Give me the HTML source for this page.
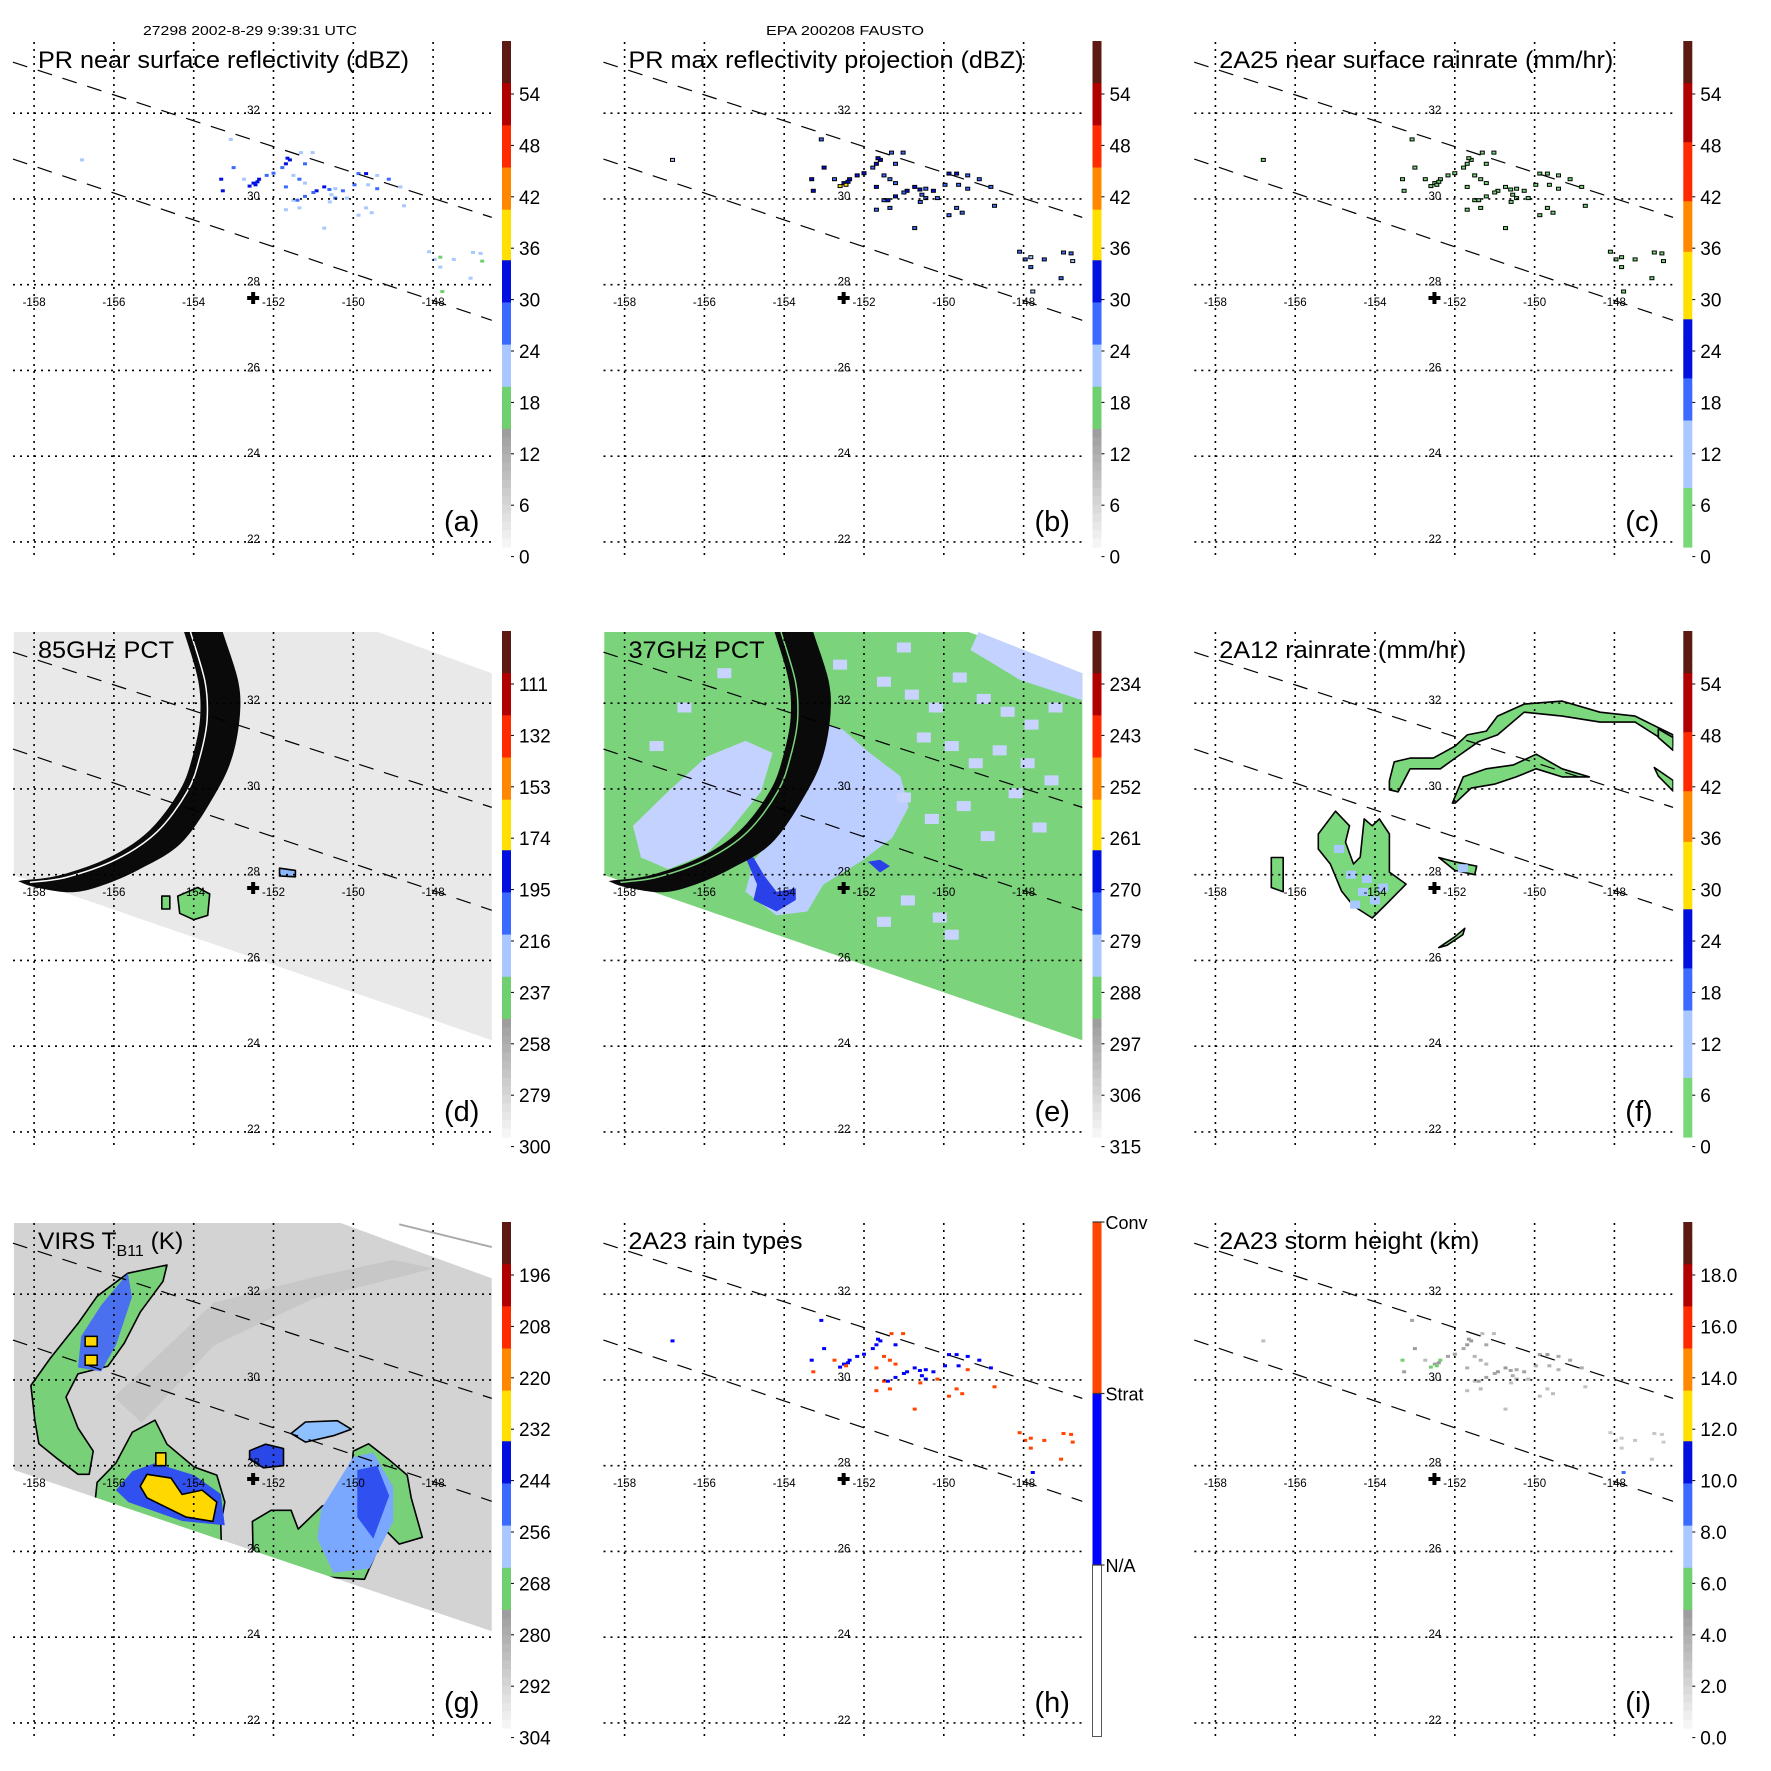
<!DOCTYPE html>
<html><head><meta charset="utf-8"><title>TRMM FAUSTO 2002-8-29</title>
<style>
html,body{margin:0;padding:0;background:#fff;}
svg{display:block;font-family:"Liberation Sans",Arial,sans-serif;}
</style></head>
<body>
<svg id="fig" xmlns="http://www.w3.org/2000/svg" width="1771" height="1771" viewBox="0 0 1771 1771">
<rect x="0" y="0" width="1771" height="1771" fill="#fff"/>
<text x="250" y="35" font-size="13" text-anchor="middle" textLength="214" lengthAdjust="spacingAndGlyphs">27298 2002-8-29 9:39:31 UTC</text>
<text x="845" y="35" font-size="13" text-anchor="middle" textLength="158" lengthAdjust="spacingAndGlyphs">EPA 200208 FAUSTO</text>
</svg>
<script>
// ---------- data ----------
const lonTicks = [-158,-156,-154,-152,-150,-148];
const latTicks = [32,30,28,26,24,22];
const stormCenter = [-152.51, 27.69];
const prEdge1 = [[-158.53,33.19],[-146.53,29.57]];
const prEdge2 = [[-158.53,30.93],[-146.53,27.17]];
// PR stratiform pixels
const stratLon = [-153.07,-153.0,-153.31,-152.5,-152.36,-152.17,-151.69,-151.59,-151.78,-151.21,-151.4,-151.21,-150.92,-150.73,-150.45,-150.45,-150.26,-149.97,-149.87,-149.68,-149.4,-149.11,-148.82,-149.63,-156.8,-147.77,-152.6,-152.4,-152.0,-151.65,-151.0,-150.6,-150.55];
const stratLat = [31.39,30.73,30.46,30.37,30.46,30.55,30.82,30.91,30.73,30.82,29.97,30.06,30.19,30.28,30.24,30.02,30.19,30.33,30.59,30.59,30.55,30.46,30.28,30.33,30.91,27.84,30.3,30.4,30.6,30.95,30.15,30.22,30.1];
// PR convective pixels
const convLon = [-152.45,-151.31,-151.02,-151.5,-151.35,-151.21,-151.69,-152.74,-153.27,-151.69,-151.5,-151.35,-150.73,-150.59,-150.16,-149.87,-149.68,-149.54,-149.4,-148.73,-148.1,-147.96,-147.82,-147.48,-147.0,-146.81,-146.77,-147.06,-147.82];
const convLat = [30.33,31.08,31.08,30.55,30.46,30.37,30.28,30.46,30.19,29.75,29.97,29.79,29.32,29.93,30.02,29.62,29.79,29.68,30.24,29.84,28.77,28.59,28.64,28.59,28.75,28.73,28.55,28.15,28.41];
// values per pixel
const stratNearSfc = [24,27,31,30,32,29,31,30,26,25,28,27,30,31,24,26,29,25,27,30,23,26,24,22,20,18,33,31,29,30,26,27,24];
const convNearSfc  = [33,22,21,24,25,23,26,22,31,23,20,24,22,21,23,22,20,23,25,21,22,20,19,22,21,20,19,22,21];
const stratMaxZ = [28,30,33,33,34,31,33,32,29,28,31,30,32,33,28,29,31,28,30,32,27,29,28,26,24,22,35,33,31,32,29,30,28];
const convMaxZ  = [36,26,25,28,29,27,30,27,34,27,25,28,26,25,27,26,25,27,29,26,26,25,24,26,25,25,24,26,25];
const stratRain = [2,3,4,4,5,3,4,4,2,2,3,3,4,4,2,2,3,2,3,4,2,2,2,1,1,1,5,4,3,4,2,3,2];
const convRain  = [6,1,1,2,2,1,2,1,5,1,1,2,1,1,1,1,1,1,2,1,1,1,1,1,1,1,1,1,1];
const stratHt = [4.2,4.6,4.8,4.5,4.9,4.3,4.7,4.6,4.1,4.0,4.4,4.3,4.6,4.7,3.9,4.1,4.4,4.0,4.3,4.6,3.8,4.1,3.9,3.6,3.0,9.0,4.9,4.7,4.4,4.6,4.1,4.3,3.9];
const convHt  = [5.0,3.0,3.0,3.4,3.5,3.2,3.6,3.1,4.5,3.0,2.8,3.2,2.9,2.8,3.0,2.9,2.7,3.0,3.4,2.8,2.5,2.4,2.3,2.5,2.4,2.3,2.2,2.5,2.4];
// colourbar tick labels
const cbMainTicks = ['54','48','42','36','30','24','18','12','6','0'];
const cb85Ticks = ['111','132','153','174','195','216','237','258','279','300'];
const cb37Ticks = ['234','243','252','261','270','279','288','297','306','315'];
const cbVirsTicks = ['196','208','220','232','244','256','268','280','292','304'];
const cbHtTicks = ['18.0','16.0','14.0','12.0','10.0','8.0','6.0','4.0','2.0','0.0'];
const rainTypeLabels = ['Conv','Strat','N/A'];
// swaths
const tmiSwath = [[-158.51,33.66],[-149.38,33.66],[-146.53,32.7],[-146.53,24.14],[-158.51,27.99]];
const virsSwath = [[-158.51,33.66],[-150.31,33.66],[-146.53,32.37],[-146.53,24.14],[-158.51,27.9]];
const scanArcOuter = [[-153.27,33.8],[-153.27,33.66],[-152.89,32.54],[-152.84,31.75],[-153.02,30.79],[-153.42,29.95],[-154.29,28.76],[-155.35,28.13],[-156.35,27.73],[-157.1,27.59],[-157.98,27.71],[-158.4,27.85]];
const scanArcInner = [[-158.28,27.87],[-157.35,27.99],[-156.1,28.41],[-155.1,29.04],[-154.34,29.98],[-154.02,30.79],[-153.84,31.65],[-153.89,32.54],[-154.24,33.66],[-154.28,33.8]];
// 85 GHz blobs
const pct85Blob1 = [[-154.4,27.5],[-153.9,27.7],[-153.6,27.55],[-153.65,27.05],[-154.0,26.95],[-154.35,27.1]];
const pct85Blob2 = [[-154.8,27.5],[-154.6,27.5],[-154.6,27.2],[-154.8,27.2]];
const pct85Blob3 = [[-151.85,28.15],[-151.45,28.1],[-151.45,27.95],[-151.85,27.97]];
// 37 GHz regions
const pct37Light1 = [[-157.79,29.14],[-156.91,29.94],[-155.95,30.75],[-154.97,31.12],[-154.29,30.84],[-154.58,29.94],[-155.36,29.04],[-155.95,28.49],[-156.91,28.13],[-157.59,28.4]];
const pct37Light2 = [[-153.42,31.65],[-152.54,31.39],[-151.86,30.84],[-151.09,30.3],[-150.88,29.58],[-151.29,28.86],[-152.06,28.32],[-153.02,27.77],[-153.42,27.14],[-154.19,27.05],[-154.97,27.6],[-154.77,28.32],[-153.99,29.21],[-153.62,30.3]];
const pct37Light3 = [[-149.13,33.66],[-146.53,32.7],[-146.53,32.07],[-148.08,32.54],[-149.33,33.24]];
const pct37Core = [[-154.97,28.4],[-154.68,27.77],[-154.77,27.41],[-154.19,27.14],[-153.71,27.41],[-153.71,27.68],[-154.19,27.6],[-154.48,27.95],[-154.77,28.4]];
const pct37Core2 = [[-151.9,28.3],[-151.6,28.35],[-151.35,28.2],[-151.6,28.05]];
const pct37SpeckLon = [-151.5,-150.8,-150.2,-149.6,-149.0,-148.4,-147.8,-147.2,-150.5,-149.8,-149.2,-148.6,-147.9,-147.3,-148.2,-149.5,-150.3,-151.0,-148.9,-147.6,-150.9,-150.1,-149.8,-151.5,-152.6,-151.0,-155.5,-156.5,-157.2,-153.5];
const pct37SpeckLat = [32.5,32.2,31.9,32.6,32.1,31.8,31.5,31.9,31.2,31.0,30.6,30.9,30.6,30.2,29.9,29.6,29.3,29.8,28.9,29.1,27.4,27.0,26.6,26.9,32.9,33.3,32.7,31.9,31.0,32.8];
// 2A12 rain areas
const tmiRainV = [[-155.42,28.95],[-154.99,29.48],[-154.64,29.14],[-154.74,28.76],[-154.54,28.25],[-154.37,28.41],[-154.27,29.3],[-154.07,29.14],[-153.89,29.3],[-153.64,28.95],[-153.64,28.06],[-153.22,27.78],[-153.69,27.34],[-154.07,26.99],[-154.54,27.27],[-154.84,27.62],[-155.12,28.25],[-155.42,28.6]];
const tmiRainBand1 = [[-153.64,30.19],[-153.52,30.63],[-153.12,30.72],[-152.54,30.72],[-151.99,31.0],[-151.69,31.26],[-151.21,31.35],[-150.93,31.7],[-150.26,31.98],[-149.31,32.05],[-148.36,31.79],[-147.48,31.7],[-146.53,31.26],[-146.53,31.0],[-147.48,31.56],[-148.36,31.56],[-149.31,31.7],[-150.26,31.79],[-150.93,31.26],[-151.41,31.1],[-151.99,30.72],[-152.36,30.47],[-152.74,30.47],[-153.12,30.47],[-153.42,29.93],[-153.64,29.98]];
const tmiRainBand2 = [[-152.06,29.67],[-151.79,30.28],[-151.21,30.47],[-150.53,30.56],[-149.96,30.81],[-149.31,30.47],[-148.63,30.28],[-149.31,30.28],[-149.96,30.47],[-150.46,30.28],[-151.01,30.11],[-151.59,30.02],[-151.99,29.67]];
const tmiRainSmall1 = [[-152.4,28.4],[-152.0,28.3],[-151.45,28.2],[-151.5,28.0],[-152.0,28.1]];
const tmiRainSmall2 = [[-152.4,26.3],[-152.0,26.55],[-151.75,26.75],[-151.8,26.6],[-152.2,26.35]];
const tmiRainSmall3 = [[-156.6,28.4],[-156.3,28.4],[-156.3,27.6],[-156.6,27.7]];
const tmiRainSmall4 = [[-146.9,31.4],[-146.53,31.2],[-146.53,30.9],[-146.9,31.2]];
const tmiRainSmall5 = [[-147.0,30.5],[-146.53,30.2],[-146.53,29.95],[-146.9,30.3]];
const tmiHeavyLon = [-154.9,-154.6,-154.3,-154.0,-153.8,-154.5,-154.2,-151.8];
const tmiHeavyLat = [28.6,28.0,27.6,27.4,27.7,27.3,27.9,28.15];
// VIRS cloud features
const virsBandLeft = [[-154.67,32.68],[-155.65,32.49],[-156.42,31.95],[-156.9,31.32],[-157.6,30.5],[-158.08,29.87],[-157.98,29.05],[-157.88,28.51],[-157.4,28.15],[-156.9,27.8],[-156.62,27.8],[-156.52,28.34],[-156.9,28.88],[-157.2,29.6],[-156.9,30.14],[-156.15,30.32],[-155.74,30.86],[-155.34,31.58],[-154.77,32.3]];
const virsBlueLeft = [[-155.65,32.49],[-156.32,31.74],[-156.82,31.02],[-156.9,30.29],[-156.32,30.2],[-155.94,30.83],[-155.55,31.93]];
const virsYellowLeftLon = [-156.57,-156.57];
const virsYellowLeftLat = [30.9,30.46];
const virsSW = [[-156.42,27.61],[-155.95,28.06],[-155.54,28.78],[-154.97,29.06],[-154.67,28.5],[-153.99,27.97],[-153.42,27.78],[-153.22,27.15],[-153.32,26.61],[-153.3,26.0],[-156.5,26.9]];
const virsSWBlue = [[-155.95,27.43],[-155.54,27.87],[-154.97,28.06],[-153.99,27.78],[-153.32,27.34],[-153.22,26.61],[-154.29,26.71],[-155.64,27.15]];
const virsSWYellow = [[-155.34,27.52],[-155.17,27.8],[-154.57,27.71],[-154.29,27.33],[-153.79,27.43],[-153.42,27.15],[-153.52,26.7],[-154.19,26.8],[-155.17,27.25]];
const virsSmallYellow = [[-154.95,28.3],[-154.7,28.3],[-154.7,28.0],[-154.95,28.0]];
const virsEyeBlob = [[-152.6,28.35],[-152.2,28.5],[-151.75,28.4],[-151.75,28.0],[-152.25,27.95],[-152.6,28.15]];
const virsCyanBlob = [[-151.56,28.75],[-151.2,29.02],[-150.4,29.05],[-150.05,28.85],[-150.5,28.7],[-151.2,28.55]];
const virsEast = [[-152.53,26.7],[-152.06,26.96],[-151.56,26.96],[-151.38,26.52],[-150.78,27.06],[-150.1,27.25],[-150.0,28.34],[-149.62,28.51],[-149.12,28.15],[-148.65,27.78],[-148.55,27.25],[-148.27,26.33],[-148.85,26.17],[-149.22,26.52],[-149.42,25.98],[-149.72,25.35],[-152.5,25.5]];
const virsEastBlue = [[-150.8,27.0],[-150.0,28.2],[-149.5,28.3],[-149.0,27.5],[-149.0,26.7],[-149.6,25.6],[-150.5,25.5],[-150.9,26.3]];
const virsEastDeep = [[-149.9,27.9],[-149.4,28.0],[-149.1,27.3],[-149.5,26.3],[-149.9,26.8]];
const virsDarkBand = [[-156,29.6],[-153.5,31.8],[-151,32.4],[-149,32.8],[-148,32.6],[-151,31.9],[-153.5,30.8],[-155.3,29.0]];
const virsEdgeLine = [[-148.85,33.63],[-146.53,33.1]];

// ---------- helpers ----------
const NS = 'http://www.w3.org/2000/svg';
const svg = document.getElementById('fig');
function mk(tag, name, parent, attrs){
  const el = document.createElementNS(NS, tag);
  
  
  for (const k in attrs) el.setAttribute(k, attrs[k]);
  (parent || svg).appendChild(el);
  return el;
}
function mainColor(t){ // t: 0 top of bar, 1 bottom
  if (t < 0.083) return '#5c1a12';
  if (t < 0.17) return '#b00000';
  if (t < 0.256) return '#ff2a00';
  if (t < 0.341) return '#ff8800';
  if (t < 0.426) return '#ffe000';
  if (t < 0.509) return '#0010e0';
  if (t < 0.594) return '#3a6aff';
  if (t < 0.678) return '#a8c8ff';
  if (t < 0.762) return '#70d070';
  const g = Math.round(153 + (t - 0.762) / 0.238 * 95);
  return 'rgb(' + g + ',' + g + ',' + g + ')';
}
function rainColor(t){
  if (t < 0.085) return '#5c1a12';
  if (t < 0.204) return '#b00000';
  if (t < 0.32) return '#ff2a00';
  if (t < 0.423) return '#ff8800';
  if (t < 0.543) return '#ffe000';
  if (t < 0.66) return '#0010e0';
  if (t < 0.755) return '#3a6aff';
  if (t < 0.881) return '#a8c8ff';
  return '#78d878';
}

function panel(ox, oy, id){
  const g = mk('g', 'panel-' + id, svg, {});
  const X = lon => ox + 34.1 + (lon + 158) * 39.9;
  const Y = lat => oy + 541.9 - (lat - 22) * 42.87;
  const pts = arr => arr.map(p => X(p[0]).toFixed(1) + ',' + Y(p[1]).toFixed(1)).join(' ');
  const clipId = 'clip-' + id;
  const cp = mk('clipPath', 'plot-clip', g, {id: clipId});
  mk('rect', 'plot-clip-rect', cp, {x: ox + 13, y: oy + 42, width: 479, height: 513});
  const plot = mk('g', 'plot-area', g, {'clip-path': 'url(#' + clipId + ')'});
  return {g, plot, X, Y, pts, ox, oy};
}
function gridAndFrame(P){
  const gg = mk('g', 'lat-lon-grid', P.g, {});
  for (const lat of latTicks){
    mk('line', 'lat-gridline-' + lat, gg, {x1: P.ox + 13, x2: P.ox + 492, y1: P.Y(lat), y2: P.Y(lat), stroke: '#000', 'stroke-width': 1.6, 'stroke-dasharray': '2 5'});
    const t = mk('text', 'lat-label-' + lat, gg, {x: P.X(-152.5), y: P.Y(lat) + 1, 'font-size': 11.5, 'text-anchor': 'middle'});
    t.textContent = String(lat);
  }
  for (const lon of lonTicks){
    mk('line', 'lon-gridline-' + lon, gg, {x1: P.X(lon), x2: P.X(lon), y1: P.oy + 42, y2: P.oy + 555, stroke: '#000', 'stroke-width': 1.6, 'stroke-dasharray': '2 5'});
    const t = mk('text', 'lon-label-' + lon, gg, {x: P.X(lon), y: P.oy + 306, 'font-size': 11.5, 'text-anchor': 'middle'});
    t.textContent = String(lon);
  }
  for (const e of [prEdge1, prEdge2]){
    mk('line', 'pr-swath-edge', gg, {x1: P.X(e[0][0]), y1: P.Y(e[0][1]), x2: P.X(e[1][0]), y2: P.Y(e[1][1]), stroke: '#000', 'stroke-width': 1.2, 'stroke-dasharray': '15 11'});
  }
  const cx = P.X(stormCenter[0]), cy = P.Y(stormCenter[1]);
  mk('path', 'storm-center-marker', gg, {d: 'M' + (cx - 6) + ',' + cy + 'H' + (cx + 6) + 'M' + cx + ',' + (cy - 6) + 'V' + (cy + 6), stroke: '#000', 'stroke-width': 4});
}
function title(P, txt, w){
  const t = mk('text', 'panel-title', P.g, {x: P.ox + 38, y: P.oy + 68, 'font-size': 24.5, textLength: w, lengthAdjust: 'spacingAndGlyphs'});
  t.textContent = txt;
}
function letter(P, l){
  const t = mk('text', 'panel-letter', P.g, {x: P.ox + 444, y: P.oy + 531, 'font-size': 29});
  t.textContent = '(' + l + ')';
}
function colorbar(P, labels, fn){
  const cb = mk('g', 'colorbar', P.g, {});
  const n = 60;
  for (let i = 0; i < n; i++){
    const t0 = i / n;
    mk('rect', 'colorbar-cell', cb, {x: P.ox + 502, y: (P.oy + 41 + t0 * 506).toFixed(2), width: 9, height: (506 / n + 0.6).toFixed(2), fill: fn((i + 0.5) / n)});
  }
  labels.forEach((lab, i) => {
    const y = P.oy + 94 + i * 51.4;
    mk('line', 'colorbar-tick', cb, {x1: P.ox + 511, x2: P.ox + 514, y1: y, y2: y, stroke: '#000', 'stroke-width': 1});
    const t = mk('text', 'colorbar-label', cb, {x: P.ox + 519, y: y + 7, 'font-size': 19});
    t.textContent = lab;
  });
}
function scatter(P, lons, lats, vals, vmin, vmax, fn, outline, name){
  const sg = mk('g', name, P.plot, {});
  for (let i = 0; i < lons.length; i++){
    const f = (vals[i] - vmin) / (vmax - vmin);
    const el = mk('rect', name + '-pixel', sg, {x: (P.X(lons[i]) - 2).toFixed(1), y: (P.Y(lats[i]) - 1.5).toFixed(1), width: 4, height: 3, fill: fn(1 - f)});
    if (outline){ el.setAttribute('stroke', '#000'); el.setAttribute('stroke-width', '1'); }
  }
}
function poly(P, arr, fill, name, stroke, parent){
  const el = mk('polygon', name, parent || P.plot, {points: P.pts(arr), fill: fill});
  if (stroke){ el.setAttribute('stroke', stroke); el.setAttribute('stroke-width', '1.6'); el.setAttribute('stroke-linejoin', 'round'); }
  return el;
}
function smoothSeg(pp){ // Catmull-Rom through pixel points
  let d = '';
  for (let i = 0; i < pp.length - 1; i++){
    const p0 = pp[Math.max(0, i - 1)], p1 = pp[i], p2 = pp[i + 1], p3 = pp[Math.min(pp.length - 1, i + 2)];
    const c1x = p1[0] + (p2[0] - p0[0]) / 6, c1y = p1[1] + (p2[1] - p0[1]) / 6;
    const c2x = p2[0] - (p3[0] - p1[0]) / 6, c2y = p2[1] - (p3[1] - p1[1]) / 6;
    d += ' C' + c1x.toFixed(1) + ',' + c1y.toFixed(1) + ' ' + c2x.toFixed(1) + ',' + c2y.toFixed(1) + ' ' + p2[0].toFixed(1) + ',' + p2[1].toFixed(1);
  }
  return d;
}
function crescent(P, name, lineColor){
  const o = scanArcOuter.map(p => [P.X(p[0]), P.Y(p[1])]);
  const n = scanArcInner.map(p => [P.X(p[0]), P.Y(p[1])]);
  const d = 'M' + o[0][0].toFixed(1) + ',' + o[0][1].toFixed(1) + smoothSeg(o) + ' L' + n[0][0].toFixed(1) + ',' + n[0][1].toFixed(1) + smoothSeg(n) + ' Z';
  mk('path', name, P.plot, {d: d, fill: '#0a0a0a'});
  // thin inner contour line inside the band
  const m = scanArcInner.map((p, i) => p);
  const mid = n.map(p => [p[0] + 7, p[1] + 2]);
  mk('path', name + '-inner-line', P.plot, {d: 'M' + mid[0][0].toFixed(1) + ',' + mid[0][1].toFixed(1) + smoothSeg(mid), fill: 'none', stroke: lineColor, 'stroke-width': 1.5});
}

const cols = [0, 590.5, 1181.3], rows = [0, 590, 1181];

// (a)
let P = panel(cols[0], rows[0], 'a');
scatter(P, stratLon, stratLat, stratNearSfc, 1, 60, mainColor, false, 'pr-strat-near-surface');
scatter(P, convLon, convLat, convNearSfc, 1, 60, mainColor, false, 'pr-conv-near-surface');
gridAndFrame(P); title(P, 'PR near surface reflectivity (dBZ)', 371); letter(P, 'a'); colorbar(P, cbMainTicks, mainColor);

// (b)
P = panel(cols[1], rows[0], 'b');
scatter(P, stratLon, stratLat, stratMaxZ, 1, 60, mainColor, true, 'pr-strat-max-z');
scatter(P, convLon, convLat, convMaxZ, 1, 60, mainColor, true, 'pr-conv-max-z');
gridAndFrame(P); title(P, 'PR max reflectivity projection (dBZ)', 395); letter(P, 'b'); colorbar(P, cbMainTicks, mainColor);

// (c)
P = panel(cols[2], rows[0], 'c');
scatter(P, stratLon, stratLat, stratRain, 0, 60, rainColor, true, 'pr-strat-rainrate');
scatter(P, convLon, convLat, convRain, 0, 60, rainColor, true, 'pr-conv-rainrate');
gridAndFrame(P); title(P, '2A25 near surface rainrate (mm/hr)', 394); letter(P, 'c'); colorbar(P, cbMainTicks, rainColor);

// (d)
P = panel(cols[0], rows[1], 'd');
poly(P, tmiSwath, '#e9e9e9', 'tmi-85ghz-swath');
crescent(P, 'scan-edge-contours', '#ffffff');
poly(P, pct85Blob1, '#78d878', 'pct85-cell-main', '#000');
poly(P, pct85Blob2, '#78d878', 'pct85-cell-small', '#000');
poly(P, pct85Blob3, '#8ab8ff', 'pct85-cell-east', '#000');
gridAndFrame(P); title(P, '85GHz PCT', 136); letter(P, 'd'); colorbar(P, cb85Ticks, mainColor);

// (e)
P = panel(cols[1], rows[1], 'e');
poly(P, tmiSwath, '#7bd47b', 'tmi-37ghz-swath');
poly(P, pct37Light1, '#c4d2ff', 'pct37-depression-west');
poly(P, pct37Light2, '#bccdff', 'pct37-depression-core');
poly(P, pct37Light3, '#c4d2ff', 'pct37-depression-ne');
{
  const sg = mk('g', 'pct37-speckles', P.plot, {});
  for (let i = 0; i < pct37SpeckLon.length; i++){
    mk('rect', 'pct37-speckle', sg, {x: P.X(pct37SpeckLon[i]) - 7, y: P.Y(pct37SpeckLat[i]) - 5, width: 14, height: 10, fill: '#c8d4ff'});
  }
}
poly(P, pct37Core, '#2a40e8', 'pct37-core');
poly(P, pct37Core2, '#2a40e8', 'pct37-core-east');
crescent(P, 'scan-edge-contours', '#7bd47b');
gridAndFrame(P); title(P, '37GHz PCT', 136); letter(P, 'e'); colorbar(P, cb37Ticks, mainColor);

// (f)
P = panel(cols[2], rows[1], 'f');
for (const [arr, nm] of [[tmiRainV,'rain-v-shape'],[tmiRainBand1,'rain-band-outer'],[tmiRainBand2,'rain-band-inner'],[tmiRainSmall1,'rain-cell-1'],[tmiRainSmall2,'rain-cell-2'],[tmiRainSmall3,'rain-cell-3'],[tmiRainSmall4,'rain-cell-4'],[tmiRainSmall5,'rain-cell-5']]){
  poly(P, arr, '#7cd87c', nm, '#000');
}
{
  const sg = mk('g', 'rain-heavy-pixels', P.plot, {});
  for (let i = 0; i < tmiHeavyLon.length; i++){
    mk('rect', 'rain-heavy-pixel', sg, {x: P.X(tmiHeavyLon[i]) - 5, y: P.Y(tmiHeavyLat[i]) - 4, width: 10, height: 8, fill: '#a8c8ff'});
  }
}
gridAndFrame(P); title(P, '2A12 rainrate (mm/hr)', 247); letter(P, 'f'); colorbar(P, cbMainTicks, rainColor);

// (g)
P = panel(cols[0], rows[2], 'g');
{
  const vclip = mk('clipPath', 'virs-swath-clip', P.g, {id: 'virs-clip'});
  poly(P, virsSwath, '#000', 'virs-swath-clip-shape', null, vclip);
  const vg = mk('g', 'virs-field', P.plot, {'clip-path': 'url(#virs-clip)'});
  poly(P, virsSwath, '#d3d3d3', 'virs-swath', null, vg);
  const band = poly(P, virsDarkBand, '#c2c2c2', 'virs-cloud-band', null, vg);
  band.setAttribute('opacity', '0.7');
  poly(P, virsBandLeft, '#78d078', 'virs-west-band', '#000', vg);
  poly(P, virsBlueLeft, '#4a70f0', 'virs-west-band-core', null, vg);
  for (let i = 0; i < virsYellowLeftLon.length; i++){
    mk('rect', 'virs-west-cold-top', vg, {x: P.X(virsYellowLeftLon[i]) - 6, y: P.Y(virsYellowLeftLat[i]) - 5, width: 12, height: 10, fill: '#ffd800', stroke: '#000', 'stroke-width': 1.5});
  }
  poly(P, virsSW, '#78d078', 'virs-sw-system', '#000', vg);
  poly(P, virsSWBlue, '#3050f0', 'virs-sw-system-core', null, vg);
  poly(P, virsSWYellow, '#ffd800', 'virs-sw-cold-tops', '#000', vg);
  poly(P, virsSmallYellow, '#ffd800', 'virs-sw-cold-top-small', '#000', vg);
  poly(P, virsEyeBlob, '#2a48e8', 'virs-center-cell', '#000', vg);
  poly(P, virsCyanBlob, '#8ec0ff', 'virs-ne-cell', '#000', vg);
  poly(P, virsEast, '#78d078', 'virs-east-system', '#000', vg);
  poly(P, virsEastBlue, '#7aa8ff', 'virs-east-system-core', null, vg);
  poly(P, virsEastDeep, '#3050f0', 'virs-east-system-deep', null, vg);
  mk('line', 'virs-edge-line', P.plot, {x1: P.X(virsEdgeLine[0][0]), y1: P.Y(virsEdgeLine[0][1]), x2: P.X(virsEdgeLine[1][0]), y2: P.Y(virsEdgeLine[1][1]), stroke: '#aaa', 'stroke-width': 2});
}
gridAndFrame(P);
{
  const t = mk('text', 'panel-title', P.g, {x: P.ox + 38, y: P.oy + 68, 'font-size': 24.5});
  t.textContent = 'VIRS T';
  const s = mk('tspan', 'title-subscript', t, {'font-size': 16, dy: 7});
  s.textContent = 'B11';
  const r = mk('tspan', 'title-units', t, {'font-size': 24.5, dy: -7});
  r.textContent = ' (K)';
}
letter(P, 'g'); colorbar(P, cbVirsTicks, mainColor);

// (h)
P = panel(cols[1], rows[2], 'h');
scatter(P, stratLon, stratLat, stratLon.map(() => 1), 0, 1, () => '#0000ff', false, 'rain-type-strat');
scatter(P, convLon, convLat, convLon.map(() => 1), 0, 1, () => '#ff4500', false, 'rain-type-conv');
gridAndFrame(P); title(P, '2A23 rain types', 174); letter(P, 'h');
{
  const cb = mk('g', 'rain-type-colorbar', P.g, {});
  const segFill = ['#ff4500', '#0000ff', '#ffffff'];
  for (let i = 0; i < 3; i++){
    mk('rect', 'rain-type-swatch', cb, {x: P.ox + 502, y: P.oy + 41 + i * 171.5, width: 9, height: 171.5, fill: segFill[i], stroke: i === 2 ? '#555' : 'none', 'stroke-width': 1});
    mk('line', 'rain-type-tick', cb, {x1: P.ox + 502, x2: P.ox + 514, y1: P.oy + 41 + i * 171.5, y2: P.oy + 41 + i * 171.5, stroke: '#333', 'stroke-width': 1.2});
    const t = mk('text', 'rain-type-label', cb, {x: P.ox + 515, y: P.oy + 48 + i * 171.5, 'font-size': 18});
    t.textContent = rainTypeLabels[i];
  }
}

// (i)
P = panel(cols[2], rows[2], 'i');
scatter(P, stratLon, stratLat, stratHt, 0, 20, mainColor, false, 'storm-height-strat');
scatter(P, convLon, convLat, convHt, 0, 20, mainColor, false, 'storm-height-conv');
gridAndFrame(P); title(P, '2A23 storm height (km)', 260); letter(P, 'i'); colorbar(P, cbHtTicks, mainColor);
</script>
</body></html>
